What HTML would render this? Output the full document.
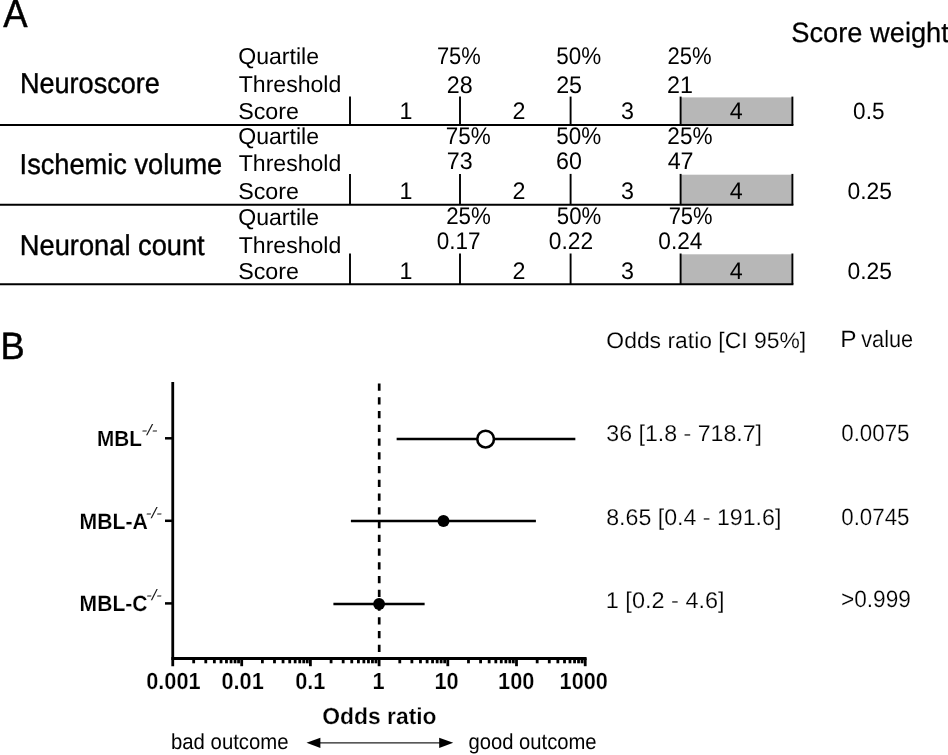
<!DOCTYPE html>
<html><head><meta charset="utf-8"><title>Figure</title>
<style>
html,body{margin:0;padding:0;background:#fff;}
body{width:948px;height:755px;overflow:hidden;font-family:"Liberation Sans",sans-serif;}
svg{display:block;will-change:transform;font-family:"Liberation Sans",sans-serif;font-kerning:none;text-rendering:geometricPrecision;}
</style></head><body>
<svg width="948" height="755" viewBox="0 0 948 755">
<rect x="0" y="0" width="948" height="755" fill="#ffffff"/>
<text transform="translate(3.18,27.30) scale(0.9216,1)" font-size="39.6" font-weight="normal" stroke="#000" stroke-width="0.5" stroke-linejoin="round" vector-effect="non-scaling-stroke" fill="#000">A</text>
<text transform="translate(791.19,42.10) scale(0.9812,1)" font-size="27.8" font-weight="normal" stroke="#000" stroke-width="0.25" stroke-linejoin="round" vector-effect="non-scaling-stroke" fill="#000">Score weight</text>
<text transform="translate(19.88,92.60) scale(0.9406,1)" font-size="28.8" font-weight="normal" stroke="#000" stroke-width="0.4" stroke-linejoin="round" vector-effect="non-scaling-stroke" fill="#000">Neuroscore</text>
<text transform="translate(19.59,173.70) scale(0.9448,1)" font-size="28.8" font-weight="normal" stroke="#000" stroke-width="0.4" stroke-linejoin="round" vector-effect="non-scaling-stroke" fill="#000">Ischemic volume</text>
<text transform="translate(19.86,254.60) scale(0.9463,1)" font-size="28.8" font-weight="normal" stroke="#000" stroke-width="0.4" stroke-linejoin="round" vector-effect="non-scaling-stroke" fill="#000">Neuronal count</text>
<rect x="681" y="97.39999999999999" width="111.5" height="27.7" fill="#b7b7b7"/>
<line x1="0" y1="125.1" x2="793.4" y2="125.1" stroke="#000" stroke-width="2" />
<line x1="350" y1="96.6" x2="350" y2="125.1" stroke="#000" stroke-width="1.9" />
<line x1="460" y1="96.6" x2="460" y2="125.1" stroke="#000" stroke-width="1.9" />
<line x1="570.6" y1="96.6" x2="570.6" y2="125.1" stroke="#000" stroke-width="1.9" />
<line x1="680.6" y1="96.6" x2="680.6" y2="125.1" stroke="#000" stroke-width="1.9" />
<line x1="792.4" y1="96.6" x2="792.4" y2="125.1" stroke="#000" stroke-width="1.9" />
<text transform="translate(238.16,64.20) scale(1.0042,1)" font-size="23.0" font-weight="normal" fill="#000">Quartile</text>
<text transform="translate(238.78,92.00) scale(1.0022,1)" font-size="23.0" font-weight="normal" fill="#000">Threshold</text>
<text transform="translate(238.19,118.90) scale(1.0126,1)" font-size="23.0" font-weight="normal" fill="#000">Score</text>
<text transform="translate(399.51,118.90) scale(0.9700,1)" font-size="24.0" font-weight="normal" fill="#000">1</text>
<text transform="translate(512.53,118.90) scale(0.9700,1)" font-size="24.0" font-weight="normal" fill="#000">2</text>
<text transform="translate(620.99,118.90) scale(0.9700,1)" font-size="24.0" font-weight="normal" fill="#000">3</text>
<text transform="translate(729.85,118.90) scale(0.9700,1)" font-size="24.0" font-weight="normal" fill="#000">4</text>
<rect x="681" y="174.70000000000002" width="111.5" height="30.100000000000005" fill="#b7b7b7"/>
<line x1="0" y1="204.8" x2="793.4" y2="204.8" stroke="#000" stroke-width="2" />
<line x1="350" y1="173.9" x2="350" y2="204.8" stroke="#000" stroke-width="1.9" />
<line x1="460" y1="173.9" x2="460" y2="204.8" stroke="#000" stroke-width="1.9" />
<line x1="570.6" y1="173.9" x2="570.6" y2="204.8" stroke="#000" stroke-width="1.9" />
<line x1="680.6" y1="173.9" x2="680.6" y2="204.8" stroke="#000" stroke-width="1.9" />
<line x1="792.4" y1="173.9" x2="792.4" y2="204.8" stroke="#000" stroke-width="1.9" />
<text transform="translate(238.16,144.40) scale(1.0042,1)" font-size="23.0" font-weight="normal" fill="#000">Quartile</text>
<text transform="translate(238.78,171.15) scale(1.0022,1)" font-size="23.0" font-weight="normal" fill="#000">Threshold</text>
<text transform="translate(238.19,198.60) scale(1.0126,1)" font-size="23.0" font-weight="normal" fill="#000">Score</text>
<text transform="translate(399.51,198.60) scale(0.9700,1)" font-size="24.0" font-weight="normal" fill="#000">1</text>
<text transform="translate(512.53,198.60) scale(0.9700,1)" font-size="24.0" font-weight="normal" fill="#000">2</text>
<text transform="translate(620.99,198.60) scale(0.9700,1)" font-size="24.0" font-weight="normal" fill="#000">3</text>
<text transform="translate(729.85,198.60) scale(0.9700,1)" font-size="24.0" font-weight="normal" fill="#000">4</text>
<rect x="681" y="254.3" width="111.5" height="30.00000000000001" fill="#b7b7b7"/>
<line x1="0" y1="284.3" x2="793.4" y2="284.3" stroke="#000" stroke-width="2" />
<line x1="350" y1="253.5" x2="350" y2="284.3" stroke="#000" stroke-width="1.9" />
<line x1="460" y1="253.5" x2="460" y2="284.3" stroke="#000" stroke-width="1.9" />
<line x1="570.6" y1="253.5" x2="570.6" y2="284.3" stroke="#000" stroke-width="1.9" />
<line x1="680.6" y1="253.5" x2="680.6" y2="284.3" stroke="#000" stroke-width="1.9" />
<line x1="792.4" y1="253.5" x2="792.4" y2="284.3" stroke="#000" stroke-width="1.9" />
<text transform="translate(238.16,224.90) scale(1.0042,1)" font-size="23.0" font-weight="normal" fill="#000">Quartile</text>
<text transform="translate(238.78,252.70) scale(1.0022,1)" font-size="23.0" font-weight="normal" fill="#000">Threshold</text>
<text transform="translate(238.19,278.80) scale(1.0126,1)" font-size="23.0" font-weight="normal" fill="#000">Score</text>
<text transform="translate(399.51,278.80) scale(0.9700,1)" font-size="24.0" font-weight="normal" fill="#000">1</text>
<text transform="translate(512.53,278.80) scale(0.9700,1)" font-size="24.0" font-weight="normal" fill="#000">2</text>
<text transform="translate(620.99,278.80) scale(0.9700,1)" font-size="24.0" font-weight="normal" fill="#000">3</text>
<text transform="translate(729.85,278.80) scale(0.9700,1)" font-size="24.0" font-weight="normal" fill="#000">4</text>
<text transform="translate(436.88,64.35) scale(0.9141,1)" font-size="24.0" font-weight="normal" fill="#000">75%</text>
<text transform="translate(556.35,64.35) scale(0.9358,1)" font-size="24.0" font-weight="normal" fill="#000">50%</text>
<text transform="translate(667.39,64.35) scale(0.9190,1)" font-size="24.0" font-weight="normal" fill="#000">25%</text>
<text transform="translate(446.73,92.60) scale(0.9700,1)" font-size="24.0" font-weight="normal" fill="#000">28</text>
<text transform="translate(556.13,92.60) scale(0.9700,1)" font-size="24.0" font-weight="normal" fill="#000">25</text>
<text transform="translate(667.03,92.60) scale(0.9700,1)" font-size="24.0" font-weight="normal" fill="#000">21</text>
<text transform="translate(853.12,118.75) scale(0.9589,1)" font-size="23.5" font-weight="normal" fill="#000">0.5</text>
<text transform="translate(445.85,144.35) scale(0.9358,1)" font-size="24.0" font-weight="normal" fill="#000">75%</text>
<text transform="translate(556.35,144.35) scale(0.9358,1)" font-size="24.0" font-weight="normal" fill="#000">50%</text>
<text transform="translate(667.36,144.35) scale(0.9408,1)" font-size="24.0" font-weight="normal" fill="#000">25%</text>
<text transform="translate(446.71,168.60) scale(0.9700,1)" font-size="24.0" font-weight="normal" fill="#000">73</text>
<text transform="translate(556.12,168.60) scale(0.9700,1)" font-size="24.0" font-weight="normal" fill="#000">60</text>
<text transform="translate(667.67,168.60) scale(0.9700,1)" font-size="24.0" font-weight="normal" fill="#000">47</text>
<text transform="translate(847.51,199.00) scale(0.9719,1)" font-size="23.5" font-weight="normal" fill="#000">0.25</text>
<text transform="translate(446.13,224.35) scale(0.9299,1)" font-size="24.0" font-weight="normal" fill="#000">25%</text>
<text transform="translate(556.86,224.35) scale(0.9249,1)" font-size="24.0" font-weight="normal" fill="#000">50%</text>
<text transform="translate(668.63,224.35) scale(0.9141,1)" font-size="24.0" font-weight="normal" fill="#000">75%</text>
<text transform="translate(436.87,249.35) scale(0.9368,1)" font-size="24.0" font-weight="normal" fill="#000">0.17</text>
<text transform="translate(548.86,249.35) scale(0.9480,1)" font-size="24.0" font-weight="normal" fill="#000">0.22</text>
<text transform="translate(658.37,249.35) scale(0.9430,1)" font-size="24.0" font-weight="normal" fill="#000">0.24</text>
<text transform="translate(847.51,279.00) scale(0.9719,1)" font-size="23.5" font-weight="normal" fill="#000">0.25</text>
<text transform="translate(0.58,359.00) scale(0.9543,1)" font-size="38.0" font-weight="normal" stroke="#000" stroke-width="0.5" stroke-linejoin="round" vector-effect="non-scaling-stroke" fill="#000">B</text>
<text transform="translate(606.34,347.50) scale(1.0225,1)" font-size="22.4" font-weight="normal" stroke="#fff" stroke-width="0.15" stroke-linejoin="round" vector-effect="non-scaling-stroke" fill="#000">Odds ratio [CI 95%]</text>
<text transform="translate(840.37,347.30) scale(1.0350,1)" font-size="23.6" font-weight="normal" stroke="#fff" stroke-width="0.15" stroke-linejoin="round" vector-effect="non-scaling-stroke" fill="#000">P</text>
<text transform="translate(861.25,347.30) scale(0.9197,1)" font-size="23.6" font-weight="normal" stroke="#fff" stroke-width="0.15" stroke-linejoin="round" vector-effect="non-scaling-stroke" fill="#000">value</text>
<text transform="translate(606.32,441.10) scale(1.0154,1)" font-size="22.8" font-weight="normal" stroke="#fff" stroke-width="0.2" stroke-linejoin="round" vector-effect="non-scaling-stroke" fill="#000">36 [1.8 - 718.7]</text>
<text transform="translate(841.23,441.15) scale(0.9424,1)" font-size="23.7" font-weight="normal" stroke="#fff" stroke-width="0.2" stroke-linejoin="round" vector-effect="non-scaling-stroke" fill="#000">0.0075</text>
<text transform="translate(606.19,524.60) scale(1.0160,1)" font-size="22.8" font-weight="normal" stroke="#fff" stroke-width="0.2" stroke-linejoin="round" vector-effect="non-scaling-stroke" fill="#000">8.65 [0.4 - 191.6]</text>
<text transform="translate(841.23,524.70) scale(0.9424,1)" font-size="23.7" font-weight="normal" stroke="#fff" stroke-width="0.2" stroke-linejoin="round" vector-effect="non-scaling-stroke" fill="#000">0.0745</text>
<text transform="translate(605.78,607.50) scale(1.0300,1)" font-size="22.8" font-weight="normal" stroke="#fff" stroke-width="0.2" stroke-linejoin="round" vector-effect="non-scaling-stroke" fill="#000">1 [0.2 - 4.6]</text>
<text transform="translate(840.98,606.90) scale(0.9562,1)" font-size="23.7" font-weight="normal" stroke="#fff" stroke-width="0.2" stroke-linejoin="round" vector-effect="non-scaling-stroke" fill="#000">&gt;0.999</text>
<line x1="172.75" y1="382" x2="172.75" y2="666.2" stroke="#000" stroke-width="2.8" />
<line x1="171.35" y1="658.5" x2="586.6" y2="658.5" stroke="#000" stroke-width="2.8" />
<line x1="193.68" y1="658.4" x2="193.68" y2="663.3" stroke="#000" stroke-width="2.8" />
<line x1="205.78" y1="658.4" x2="205.78" y2="663.3" stroke="#000" stroke-width="2.8" />
<line x1="214.36" y1="658.4" x2="214.36" y2="663.3" stroke="#000" stroke-width="2.8" />
<line x1="221.02" y1="658.4" x2="221.02" y2="663.3" stroke="#000" stroke-width="2.8" />
<line x1="226.46" y1="658.4" x2="226.46" y2="663.3" stroke="#000" stroke-width="2.8" />
<line x1="231.06" y1="658.4" x2="231.06" y2="663.3" stroke="#000" stroke-width="2.8" />
<line x1="235.04" y1="658.4" x2="235.04" y2="663.3" stroke="#000" stroke-width="2.8" />
<line x1="238.56" y1="658.4" x2="238.56" y2="663.3" stroke="#000" stroke-width="2.8" />
<line x1="241.7" y1="658.4" x2="241.7" y2="666.2" stroke="#000" stroke-width="2.8" />
<line x1="262.38" y1="658.4" x2="262.38" y2="663.3" stroke="#000" stroke-width="2.8" />
<line x1="274.48" y1="658.4" x2="274.48" y2="663.3" stroke="#000" stroke-width="2.8" />
<line x1="283.06" y1="658.4" x2="283.06" y2="663.3" stroke="#000" stroke-width="2.8" />
<line x1="289.72" y1="658.4" x2="289.72" y2="663.3" stroke="#000" stroke-width="2.8" />
<line x1="295.16" y1="658.4" x2="295.16" y2="663.3" stroke="#000" stroke-width="2.8" />
<line x1="299.76" y1="658.4" x2="299.76" y2="663.3" stroke="#000" stroke-width="2.8" />
<line x1="303.74" y1="658.4" x2="303.74" y2="663.3" stroke="#000" stroke-width="2.8" />
<line x1="307.26" y1="658.4" x2="307.26" y2="663.3" stroke="#000" stroke-width="2.8" />
<line x1="310.4" y1="658.4" x2="310.4" y2="666.2" stroke="#000" stroke-width="2.8" />
<line x1="331.08" y1="658.4" x2="331.08" y2="663.3" stroke="#000" stroke-width="2.8" />
<line x1="343.18" y1="658.4" x2="343.18" y2="663.3" stroke="#000" stroke-width="2.8" />
<line x1="351.76" y1="658.4" x2="351.76" y2="663.3" stroke="#000" stroke-width="2.8" />
<line x1="358.42" y1="658.4" x2="358.42" y2="663.3" stroke="#000" stroke-width="2.8" />
<line x1="363.86" y1="658.4" x2="363.86" y2="663.3" stroke="#000" stroke-width="2.8" />
<line x1="368.46" y1="658.4" x2="368.46" y2="663.3" stroke="#000" stroke-width="2.8" />
<line x1="372.44" y1="658.4" x2="372.44" y2="663.3" stroke="#000" stroke-width="2.8" />
<line x1="375.96" y1="658.4" x2="375.96" y2="663.3" stroke="#000" stroke-width="2.8" />
<line x1="379.1" y1="658.4" x2="379.1" y2="666.2" stroke="#000" stroke-width="2.8" />
<line x1="399.78" y1="658.4" x2="399.78" y2="663.3" stroke="#000" stroke-width="2.8" />
<line x1="411.88" y1="658.4" x2="411.88" y2="663.3" stroke="#000" stroke-width="2.8" />
<line x1="420.46" y1="658.4" x2="420.46" y2="663.3" stroke="#000" stroke-width="2.8" />
<line x1="427.12" y1="658.4" x2="427.12" y2="663.3" stroke="#000" stroke-width="2.8" />
<line x1="432.56" y1="658.4" x2="432.56" y2="663.3" stroke="#000" stroke-width="2.8" />
<line x1="437.16" y1="658.4" x2="437.16" y2="663.3" stroke="#000" stroke-width="2.8" />
<line x1="441.14" y1="658.4" x2="441.14" y2="663.3" stroke="#000" stroke-width="2.8" />
<line x1="444.66" y1="658.4" x2="444.66" y2="663.3" stroke="#000" stroke-width="2.8" />
<line x1="447.8" y1="658.4" x2="447.8" y2="666.2" stroke="#000" stroke-width="2.8" />
<line x1="468.48" y1="658.4" x2="468.48" y2="663.3" stroke="#000" stroke-width="2.8" />
<line x1="480.58" y1="658.4" x2="480.58" y2="663.3" stroke="#000" stroke-width="2.8" />
<line x1="489.16" y1="658.4" x2="489.16" y2="663.3" stroke="#000" stroke-width="2.8" />
<line x1="495.82" y1="658.4" x2="495.82" y2="663.3" stroke="#000" stroke-width="2.8" />
<line x1="501.26" y1="658.4" x2="501.26" y2="663.3" stroke="#000" stroke-width="2.8" />
<line x1="505.86" y1="658.4" x2="505.86" y2="663.3" stroke="#000" stroke-width="2.8" />
<line x1="509.84" y1="658.4" x2="509.84" y2="663.3" stroke="#000" stroke-width="2.8" />
<line x1="513.36" y1="658.4" x2="513.36" y2="663.3" stroke="#000" stroke-width="2.8" />
<line x1="516.5" y1="658.4" x2="516.5" y2="666.2" stroke="#000" stroke-width="2.8" />
<line x1="537.18" y1="658.4" x2="537.18" y2="663.3" stroke="#000" stroke-width="2.8" />
<line x1="549.28" y1="658.4" x2="549.28" y2="663.3" stroke="#000" stroke-width="2.8" />
<line x1="557.86" y1="658.4" x2="557.86" y2="663.3" stroke="#000" stroke-width="2.8" />
<line x1="564.52" y1="658.4" x2="564.52" y2="663.3" stroke="#000" stroke-width="2.8" />
<line x1="569.96" y1="658.4" x2="569.96" y2="663.3" stroke="#000" stroke-width="2.8" />
<line x1="574.56" y1="658.4" x2="574.56" y2="663.3" stroke="#000" stroke-width="2.8" />
<line x1="578.54" y1="658.4" x2="578.54" y2="663.3" stroke="#000" stroke-width="2.8" />
<line x1="582.06" y1="658.4" x2="582.06" y2="663.3" stroke="#000" stroke-width="2.8" />
<line x1="585.2" y1="658.4" x2="585.2" y2="666.2" stroke="#000" stroke-width="2.8" />
<line x1="165" y1="438.3" x2="172.75" y2="438.3" stroke="#000" stroke-width="2.5" />
<line x1="165" y1="520.8" x2="172.75" y2="520.8" stroke="#000" stroke-width="2.5" />
<line x1="165" y1="603.4" x2="172.75" y2="603.4" stroke="#000" stroke-width="2.5" />
<text transform="translate(97.04,445.70) scale(0.9460,1)" font-size="21.9" font-weight="bold" stroke="#fff" stroke-width="0.15" stroke-linejoin="round" vector-effect="non-scaling-stroke" fill="#000">MBL</text>
<text transform="translate(141.42,435.30) scale(1.1266,1)" font-size="15.2" font-weight="normal" font-style="italic" fill="#111">-/-</text>
<text transform="translate(79.61,528.95) scale(0.9591,1)" font-size="22.1" font-weight="bold" stroke="#fff" stroke-width="0.15" stroke-linejoin="round" vector-effect="non-scaling-stroke" fill="#000">MBL-A</text>
<text transform="translate(145.83,517.80) scale(1.1190,1)" font-size="15.2" font-weight="normal" font-style="italic" fill="#111">-/-</text>
<text transform="translate(79.62,610.70) scale(0.9536,1)" font-size="22.1" font-weight="bold" stroke="#fff" stroke-width="0.15" stroke-linejoin="round" vector-effect="non-scaling-stroke" fill="#000">MBL-C</text>
<text transform="translate(146.25,600.20) scale(1.0888,1)" font-size="15.2" font-weight="normal" font-style="italic" fill="#111">-/-</text>
<text transform="translate(146.14,689.00) scale(0.9300,1)" font-size="23.4" font-weight="bold" stroke="#fff" stroke-width="0.25" stroke-linejoin="round" vector-effect="non-scaling-stroke" fill="#000">0.001</text>
<text transform="translate(221.44,689.00) scale(0.9300,1)" font-size="23.4" font-weight="bold" stroke="#fff" stroke-width="0.25" stroke-linejoin="round" vector-effect="non-scaling-stroke" fill="#000">0.01</text>
<text transform="translate(295.14,689.00) scale(0.9300,1)" font-size="23.4" font-weight="bold" stroke="#fff" stroke-width="0.25" stroke-linejoin="round" vector-effect="non-scaling-stroke" fill="#000">0.1</text>
<text transform="translate(372.55,689.00) scale(0.9300,1)" font-size="23.4" font-weight="bold" stroke="#fff" stroke-width="0.25" stroke-linejoin="round" vector-effect="non-scaling-stroke" fill="#000">1</text>
<text transform="translate(434.39,689.00) scale(0.9300,1)" font-size="23.4" font-weight="bold" stroke="#fff" stroke-width="0.25" stroke-linejoin="round" vector-effect="non-scaling-stroke" fill="#000">10</text>
<text transform="translate(498.08,689.00) scale(0.9300,1)" font-size="23.4" font-weight="bold" stroke="#fff" stroke-width="0.25" stroke-linejoin="round" vector-effect="non-scaling-stroke" fill="#000">100</text>
<text transform="translate(559.58,689.00) scale(0.9300,1)" font-size="23.4" font-weight="bold" stroke="#fff" stroke-width="0.25" stroke-linejoin="round" vector-effect="non-scaling-stroke" fill="#000">1000</text>
<text transform="translate(322.24,724.40) scale(0.9860,1)" font-size="23.2" font-weight="bold" stroke="#fff" stroke-width="0.25" stroke-linejoin="round" vector-effect="non-scaling-stroke" fill="#000">Odds ratio</text>
<text transform="translate(170.99,749.20) scale(0.9289,1)" font-size="21.9" font-weight="normal" fill="#000">bad outcome</text>
<text transform="translate(468.40,749.20) scale(0.9240,1)" font-size="21.9" font-weight="normal" fill="#000">good outcome</text>
<line x1="315" y1="742.8" x2="445" y2="742.8" stroke="#222" stroke-width="1.15"/>
<polygon points="306.5,742.8 320.4,737.7 320.4,747.9" fill="#000"/>
<polygon points="453.2,742.8 439.2,737.7 439.2,747.9" fill="#000"/>
<line x1="379.20000000000005" y1="383.5" x2="379.20000000000005" y2="652" stroke="#000" stroke-width="2.7" stroke-dasharray="7.2 6.55"/>
<line x1="396.64" y1="438.95" x2="575.34" y2="438.95" stroke="#000" stroke-width="2.5" />
<line x1="350.9" y1="521.1" x2="535.90" y2="521.1" stroke="#000" stroke-width="2.5" />
<line x1="333.4" y1="603.9" x2="424.63" y2="603.9" stroke="#000" stroke-width="2.5" />
<circle cx="485.62" cy="439.1" r="8.35" fill="#fff" stroke="#000" stroke-width="2.6"/>
<circle cx="443.47" cy="521" r="6" fill="#000"/>
<circle cx="379.10" cy="604" r="5.9" fill="#000"/>
</svg>
</body></html>
